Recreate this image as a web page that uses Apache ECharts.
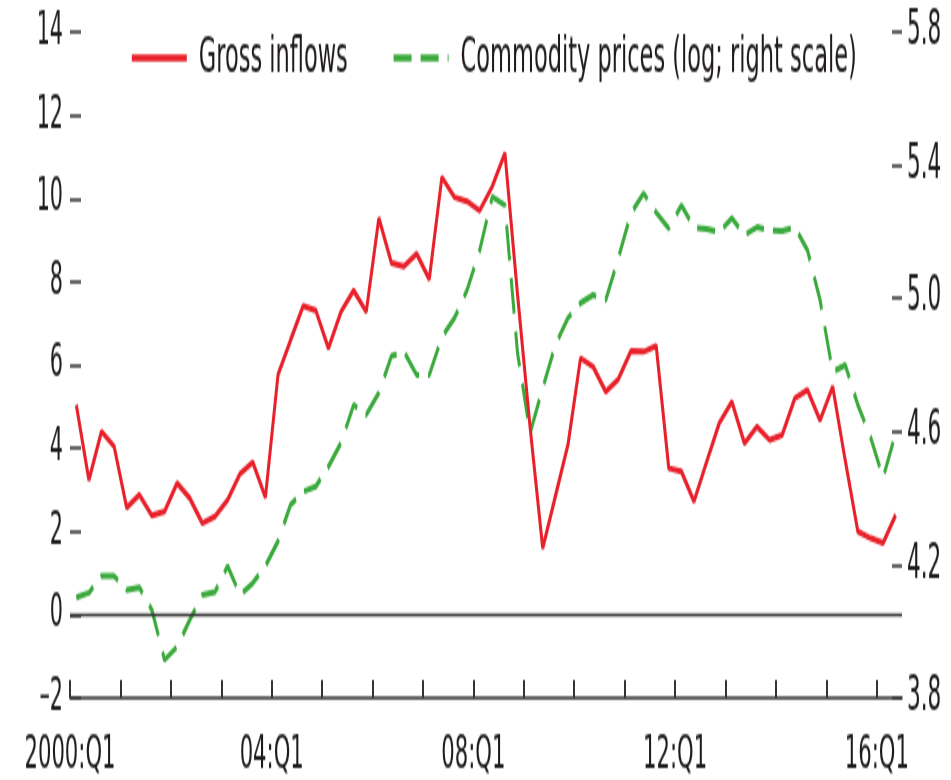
<!DOCTYPE html>
<html>
<head>
<meta charset="utf-8">
<script src="https://cdn.jsdelivr.net/npm/echarts@6/dist/echarts.min.js"></script>
<style>
  html, body { margin: 0; padding: 0; background: #ffffff; }
  #frame { width: 951px; height: 780px; overflow: hidden; position: relative; }
  #chart {
    position: absolute;
    left: 0;
    top: 0;
    width: 951px;
    height: 390px;
    transform: scaleY(2);
    transform-origin: 0 0;
  }
</style>
</head>
<body>
<div id="frame"><div id="chart"></div></div>
<script>
// Quarterly periods, 2000:Q1 to 2016:Q2
const quarters = [];
for (let y = 2000; y <= 2016; y++) {
  for (let q = 1; q <= 4; q++) {
    if (y === 2016 && q > 2) break;
    quarters.push(y + ':Q' + q);
  }
}

// Gross capital inflows (left scale)
const grossInflows = [
  5.04, 3.24, 4.40, 4.04, 2.57, 2.88, 2.38, 2.48, 3.16, 2.80, 2.20, 2.36,
  2.76, 3.39, 3.66, 2.82, 5.76, 6.60, 7.42, 7.31, 6.40, 7.28, 7.79, 7.28,
  9.53, 8.45, 8.37, 8.67, 8.06, 10.51, 10.03, 9.93, 9.71, 10.29, 11.09, 7.70,
  4.50, 1.60, 2.84, 4.08, 6.16, 5.96, 5.36, 5.66, 6.34, 6.32, 6.46, 3.52,
  3.44, 2.72, 3.67, 4.60, 5.12, 4.12, 4.52, 4.20, 4.32, 5.20, 5.40, 4.67,
  5.48, 3.70, 2.00, 1.84, 1.72, 2.40
];

// Commodity prices, log (right scale)
const commodityPrices = [
  4.102, 4.116, 4.166, 4.166, 4.124, 4.132, 4.064, 3.914, 3.954, 4.034, 4.109, 4.118,
  4.196, 4.109, 4.145, 4.196, 4.271, 4.380, 4.420, 4.435, 4.495, 4.566, 4.680, 4.650,
  4.716, 4.827, 4.839, 4.770, 4.770, 4.884, 4.941, 5.025, 5.145, 5.305, 5.280, 4.836,
  4.596, 4.731, 4.860, 4.941, 4.986, 5.010, 4.995, 5.121, 5.255, 5.316, 5.258, 5.210,
  5.280, 5.213, 5.208, 5.199, 5.241, 5.190, 5.214, 5.205, 5.202, 5.214, 5.145, 4.995,
  4.779, 4.800, 4.680, 4.584, 4.461, 4.596
];

// Year boundaries carry ticks; every fourth year is labelled
const yearTicks = [0, 4, 8, 12, 16, 20, 24, 28, 32, 36, 40, 44, 48, 52, 56, 60, 64];
const labelTicks = [0, 16, 32, 48, 64];
const tickLabels = ['2000:Q1', '04:Q1', '08:Q1', '12:Q1', '16:Q1'];

const seriesNames = ['Gross inflows', 'Commodity prices (log; right scale)'];

const FONT = "'DejaVu Sans Condensed', 'Liberation Sans Narrow', 'Arial Narrow', sans-serif";
const INK = '#1f1b1c';
const AXIS = '#333333';
const RED = '#e8202a';
const GREEN = '#3aaa3c';

// Each quarter is plotted at the middle of its span on the time axis
const toPoints = arr => arr.map((v, i) => [i + 0.5, v]);

const chart = echarts.init(document.getElementById('chart'));

chart.setOption({
  animation: false,
  backgroundColor: '#ffffff',
  textStyle: { fontFamily: FONT, color: INK },
  grid: { left: 70, right: 49, top: 16, height: 333, containLabel: false },
  legend: {
    data: seriesNames,
    left: 130,
    top: 16.5,
    padding: 0,
    width: 800,
    itemWidth: 55,
    itemHeight: 10,
    itemGap: 44,
    // keep the key as a plain line sample, no marker dot
    itemStyle: { opacity: 0, borderWidth: 0 },
    lineStyle: { width: 3.6 },
    textStyle: { fontFamily: FONT, fontSize: 25, color: INK, lineHeight: 25, padding: [0, 0, 0, 7] }
  },
  xAxis: {
    type: 'value',
    min: 0,
    max: quarters.length,
    interval: 4,
    splitLine: { show: false },
    axisLine: { show: true, onZero: false, lineStyle: { color: AXIS, width: 1.6 } },
    axisTick: {
      show: true, inside: true, length: 9, customValues: yearTicks,
      lineStyle: { color: AXIS, width: 2 }
    },
    axisLabel: {
      customValues: labelTicks,
      margin: 17,
      fontFamily: FONT, fontSize: 23.5, color: INK,
      formatter: v => {
        const k = labelTicks.indexOf(Math.round(v));
        return k >= 0 ? tickLabels[k] : '';
      }
    }
  },
  yAxis: [
    {
      type: 'value', min: -2, max: 14, interval: 2,
      splitLine: { show: false },
      axisLine: { show: false },
      axisTick: { show: true, inside: true, length: 11, lineStyle: { color: AXIS, width: 1.5 } },
      axisLabel: {
        margin: 7, fontFamily: FONT, fontSize: 23, color: INK,
        formatter: v => (v < 0 ? '\u2013' + Math.abs(v) : String(v))
      }
    },
    {
      type: 'value', min: 3.8, max: 5.8, interval: 0.4, position: 'right',
      splitLine: { show: false },
      axisLine: { show: false },
      axisTick: { show: true, inside: true, length: 10, lineStyle: { color: AXIS, width: 1.5 } },
      axisLabel: {
        margin: 5, fontFamily: FONT, fontSize: 24, color: INK,
        formatter: v => v.toFixed(1)
      }
    }
  ],
  series: [
    {
      name: seriesNames[0],
      type: 'line',
      yAxisIndex: 0,
      data: toPoints(grossInflows),
      symbol: 'none',
      z: 4,
      lineStyle: { color: RED, width: 3 },
      itemStyle: { color: RED },
      markLine: {
        silent: true,
        symbol: 'none',
        label: { show: false },
        lineStyle: { color: AXIS, width: 1.3, type: 'solid' },
        data: [{ yAxis: 0 }]
      }
    },
    {
      name: seriesNames[1],
      type: 'line',
      yAxisIndex: 1,
      data: toPoints(commodityPrices),
      symbol: 'none',
      z: 3,
      lineStyle: { color: GREEN, width: 3, type: [18, 9] },
      itemStyle: { color: GREEN }
    }
  ]
});
</script>
</body>
</html>
